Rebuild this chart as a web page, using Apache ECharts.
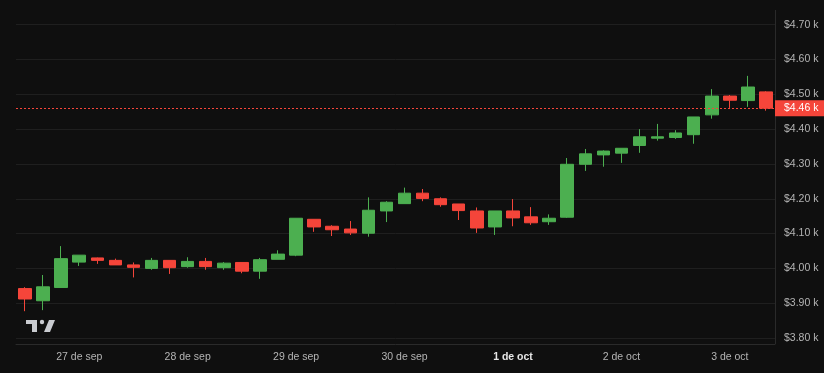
<!DOCTYPE html>
<html>
<head>
<meta charset="utf-8">
<script src="https://cdn.jsdelivr.net/npm/echarts@6/dist/echarts.min.js"></script>
<style>
html,body{margin:0;padding:0;background:#0f0f0f;}
#chart{width:824px;height:373px;}
</style>
</head>
<body>
<div id="chart"></div>
<script>
const categories = [
  '26 sep 12:00','26 sep 16:00','26 sep 20:00',
  '27 sep 00:00','27 sep 04:00','27 sep 08:00','27 sep 12:00','27 sep 16:00','27 sep 20:00',
  '28 sep 00:00','28 sep 04:00','28 sep 08:00','28 sep 12:00','28 sep 16:00','28 sep 20:00',
  '29 sep 00:00','29 sep 04:00','29 sep 08:00','29 sep 12:00','29 sep 16:00','29 sep 20:00',
  '30 sep 00:00','30 sep 04:00','30 sep 08:00','30 sep 12:00','30 sep 16:00','30 sep 20:00',
  '1 oct 00:00','1 oct 04:00','1 oct 08:00','1 oct 12:00','1 oct 16:00','1 oct 20:00',
  '2 oct 00:00','2 oct 04:00','2 oct 08:00','2 oct 12:00','2 oct 16:00','2 oct 20:00',
  '3 oct 00:00','3 oct 04:00','3 oct 08:00'
];
const opens  = [3942,3907,3945,4018,4030,4023,4010,4000,4023,4005,4020,4002,4017,3992,4026,4038,4141,4121,4113,4101,4165,4186,4216,4200,4185,4165,4119,4165,4148,4134,4147,4299,4326,4331,4353,4374,4376,4384,4441,4495,4482,4507];
const closes = [3912,3947,4028,4038,4023,4010,4003,4023,4002,4020,4005,4015,3992,4025,4041,4144,4119,4111,4102,4167,4190,4216,4201,4183,4166,4116,4165,4145,4131,4144,4299,4329,4337,4345,4378,4378,4389,4435,4495,4483,4521,4460];
const highs  = [3946,3981,4064,4038,4031,4028,4017,4030,4023,4032,4030,4018,4017,4030,4052,4144,4141,4124,4136,4204,4193,4232,4228,4204,4185,4175,4165,4199,4176,4155,4317,4343,4339,4345,4400,4415,4397,4435,4515,4498,4553,4509];
const lows   = [3877,3880,3944,4007,4013,4010,3974,3996,3984,4002,3996,3996,3986,3970,4026,4035,4105,4093,4096,4091,4133,4186,4193,4177,4139,4102,4096,4121,4125,4125,4145,4280,4292,4303,4332,4367,4372,4358,4430,4461,4464,4453];
const dayTicks = ['27 sep 00:00','28 sep 00:00','29 sep 00:00','30 sep 00:00','1 oct 00:00','2 oct 00:00','3 oct 00:00'];
const dayTickLabels = ['27 de sep','28 de sep','29 de sep','30 de sep','1 de oct','2 de oct','3 de oct'];
const boldTick = '1 de oct';
const yTicks = [3800,3900,4000,4100,4200,4300,4400,4500,4600,4700];
const lastPrice = 4460;

const UP = '#4caf50', DOWN = '#f5453a';
const FONT = 'Liberation Sans';

const candleData = opens.map((o, i) => [o, closes[i], lows[i], highs[i]]);

const chart = echarts.init(document.getElementById('chart'), null, {renderer: 'canvas'});
chart.setOption({
  backgroundColor: '#0f0f0f',
  animation: false,
  textStyle: {fontFamily: FONT},
  grid: {left: 16, right: 49, top: 24.7, bottom: 35},
  xAxis: {
    type: 'category',
    data: categories,
    boundaryGap: true,
    offset: 6,
    axisLine: {show: true, lineStyle: {color: '#2a2a2a', width: 1}},
    axisTick: {show: false},
    splitLine: {show: false},
    axisLabel: {
      interval: 0,
      margin: 8,
      fontFamily: FONT,
      fontSize: 10.5,
      color: '#b4b4b4',
      formatter: function (v) {
        const k = dayTicks.indexOf(v);
        if (k < 0) return '';
        const t = dayTickLabels[k];
        return t === boldTick ? '{b|' + t + '}' : t;
      },
      rich: {b: {fontWeight: 'bold', color: '#e6e6e6', fontSize: 10.5, fontFamily: FONT}}
    }
  },
  yAxis: {
    type: 'value',
    position: 'right',
    min: yTicks[0],
    max: yTicks[yTicks.length - 1],
    interval: 100,
    scale: true,
    axisLine: {show: false},
    axisTick: {show: false},
    splitLine: {show: true, lineStyle: {color: '#1f1f1f', width: 1}},
    axisLabel: {
      margin: 9,
      fontFamily: FONT,
      fontSize: 10.5,
      color: '#b4b4b4',
      formatter: v => '$' + (v / 1000).toFixed(2) + ' k'
    }
  },
  series: [{
    type: 'candlestick',
    data: candleData,
    barWidth: 13,
    itemStyle: {color: UP, color0: DOWN, borderColor: UP, borderColor0: DOWN, borderWidth: 1},
    markLine: {
      silent: true,
      symbol: ['none', 'none'],
      lineStyle: {color: DOWN, type: [2, 2], width: 1},
      label: {
        show: true,
        position: 'end',
        distance: 0,
        formatter: () => '$' + (lastPrice / 1000).toFixed(2) + ' k',
        backgroundColor: DOWN,
        color: '#ffffff',
        fontFamily: FONT,
        fontSize: 10.5,
        padding: [2, 8, 2, 9],
        lineHeight: 12
      },
      data: [{yAxis: lastPrice}]
    }
  }],
  graphic: [
    {type: 'line', z: 5, shape: {x1: 775.5, y1: 10, x2: 775.5, y2: 344}, style: {stroke: '#2a2a2a', lineWidth: 1}},
    {type: 'rect', z: 5, shape: {x: 26, y: 320, width: 11, height: 4}, style: {fill: '#c9cbd0'}},
    {type: 'rect', z: 5, shape: {x: 32, y: 320, width: 5, height: 12}, style: {fill: '#c9cbd0'}},
    {type: 'circle', z: 5, shape: {cx: 42, cy: 322, r: 2.2}, style: {fill: '#c9cbd0'}},
    {type: 'polygon', z: 5, shape: {points: [[49, 320], [55, 320], [50, 332], [44, 332]]}, style: {fill: '#c9cbd0'}}
  ]
});
</script>
</body>
</html>
